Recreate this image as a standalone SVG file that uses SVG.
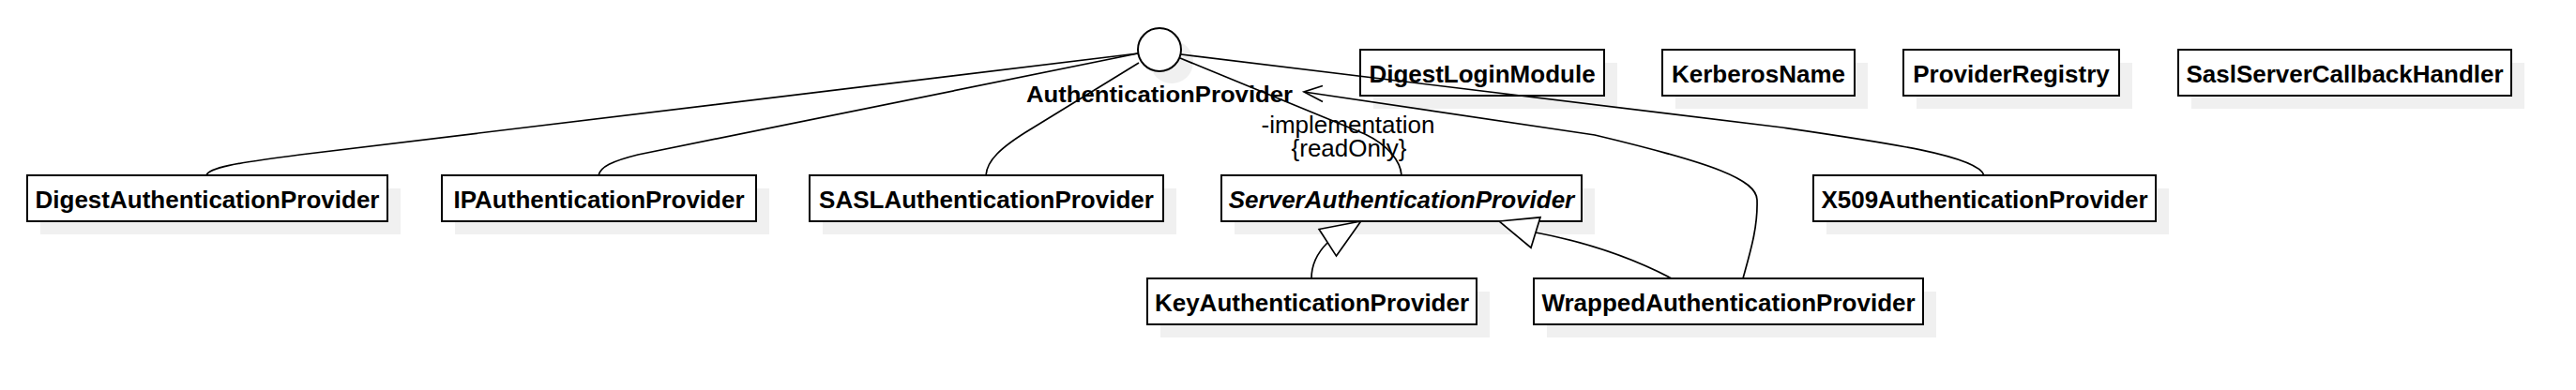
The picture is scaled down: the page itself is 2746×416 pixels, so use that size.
<svg xmlns="http://www.w3.org/2000/svg" width="2746" height="416" viewBox="0 0 2746 416">
<style>
.sh{fill:#f0f0f0;stroke:none}
.bx{fill:#ffffff;stroke:#000000;stroke-width:2}
.t{font-family:"Liberation Sans",Arial,sans-serif;font-size:26px;font-weight:bold;text-anchor:middle;fill:#000}
.ti{font-style:italic}
.lb{font-family:"Liberation Sans",Arial,sans-serif;font-size:26px;fill:#000;text-anchor:middle}
.ln{fill:none;stroke:#000;stroke-width:1.7}
.tri{fill:#ffffff;stroke:#000;stroke-width:1.7}
</style>
<rect width="2746" height="416" fill="#ffffff"/>
<g id="AuthenticationProvider">
<circle class="sh" cx="1249" cy="66" r="23"/>
<circle class="bx" cx="1236" cy="53" r="23"/>
<text class="t" x="1378" y="109" style="text-anchor:end;font-size:24px" textLength="284" lengthAdjust="spacingAndGlyphs">AuthenticationProvider</text>
</g>
<g id="DigestLoginModule">
<rect class="sh" x="1464" y="67" width="260" height="49"/>
<rect class="bx" x="1450" y="53" width="260" height="49"/>
<text class="t" x="1580" y="88">DigestLoginModule</text>
</g>
<g id="KerberosName">
<rect class="sh" x="1786" y="67" width="205" height="49"/>
<rect class="bx" x="1772" y="53" width="205" height="49"/>
<text class="t" x="1874.5" y="88">KerberosName</text>
</g>
<g id="ProviderRegistry">
<rect class="sh" x="2043" y="67" width="230" height="49"/>
<rect class="bx" x="2029" y="53" width="230" height="49"/>
<text class="t" x="2144" y="88">ProviderRegistry</text>
</g>
<g id="SaslServerCallbackHandler">
<rect class="sh" x="2336" y="67" width="355" height="49"/>
<rect class="bx" x="2322" y="53" width="355" height="49"/>
<text class="t" x="2499.5" y="88">SaslServerCallbackHandler</text>
</g>
<g id="DigestAuthenticationProvider">
<rect class="sh" x="43" y="201" width="384" height="49"/>
<rect class="bx" x="29" y="187" width="384" height="49"/>
<text class="t" x="221" y="222">DigestAuthenticationProvider</text>
</g>
<g id="IPAuthenticationProvider">
<rect class="sh" x="485" y="201" width="335" height="49"/>
<rect class="bx" x="471" y="187" width="335" height="49"/>
<text class="t" x="638.5" y="222">IPAuthenticationProvider</text>
</g>
<g id="SASLAuthenticationProvider">
<rect class="sh" x="877" y="201" width="377" height="49"/>
<rect class="bx" x="863" y="187" width="377" height="49"/>
<text class="t" x="1051.5" y="222">SASLAuthenticationProvider</text>
</g>
<g id="ServerAuthenticationProvider">
<rect class="sh" x="1316" y="201" width="384" height="49"/>
<rect class="bx" x="1302" y="187" width="384" height="49"/>
<text class="t ti" x="1494" y="222">ServerAuthenticationProvider</text>
</g>
<g id="X509AuthenticationProvider">
<rect class="sh" x="1947" y="201" width="365" height="49"/>
<rect class="bx" x="1933" y="187" width="365" height="49"/>
<text class="t" x="2115.5" y="222">X509AuthenticationProvider</text>
</g>
<g id="KeyAuthenticationProvider">
<rect class="sh" x="1237" y="311" width="351" height="49"/>
<rect class="bx" x="1223" y="297" width="351" height="49"/>
<text class="t" x="1398.5" y="332">KeyAuthenticationProvider</text>
</g>
<g id="WrappedAuthenticationProvider">
<rect class="sh" x="1649" y="311" width="415" height="49"/>
<rect class="bx" x="1635" y="297" width="415" height="49"/>
<text class="t" x="1842.5" y="332">WrappedAuthenticationProvider</text>
</g>
<g id="connectors">
<path class="ln" d="M1213,57 L320,165 C250,174 222,179 220,187"/>
<path class="ln" d="M1213,57 L680,165 C652,172 640,178 638,187"/>
<path class="ln" d="M1214,67 L1100,137 C1065,158 1052,172 1051,187"/>
<path class="ln" d="M1258,62 L1455,143 C1480,155 1493,172 1494,187"/>
<path class="ln" d="M1259,58 L1900,136 C2010,152 2108,166 2115,187"/>
<path class="ln" d="M1858,297 C1866,268 1874,242 1873,213 C1872,192 1830,175 1700,144 L1390,98"/>
<polyline class="ln" points="1410,91.5 1390,98 1410,108.5"/>
<text class="lb" x="1437" y="142">-implementation</text>
<text class="lb" x="1438" y="167">{readOnly}</text>
<path class="ln" d="M1398,297 C1398,284 1404,270 1415,259"/>
<polygon class="tri" points="1450.7,236 1406.1,244.5 1424.5,273.1"/>
<path class="ln" d="M1782,297 C1740,275 1690,258 1637,248"/>
<polygon class="tri" points="1598,236 1642,231.8 1632,264.2"/>
</g>
</svg>
